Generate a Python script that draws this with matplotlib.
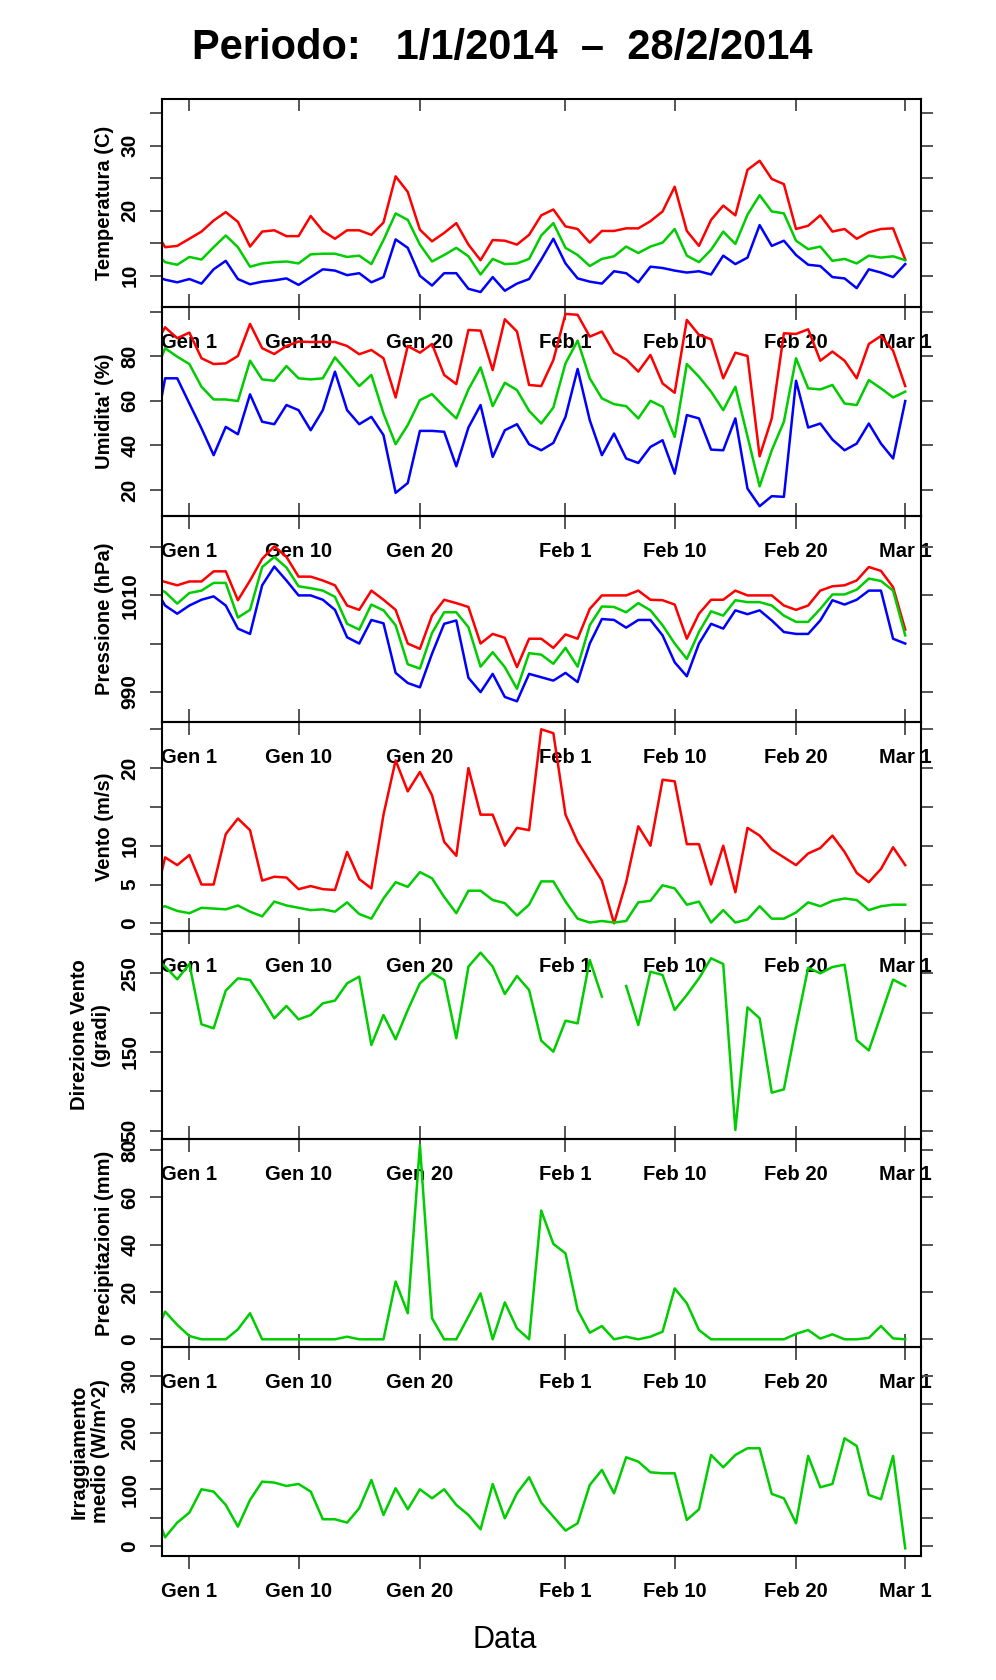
import numpy as np
import matplotlib
matplotlib.use('Agg')
import matplotlib.pyplot as plt

plt.rcParams['font.family'] = ['Liberation Sans', 'DejaVu Sans']

# giorni rispetto al 1 gennaio 2014 (il primo punto cade appena fuori dal bordo sinistro)
days = np.arange(-3, 60)

tick_days = [0, 9, 19, 31, 40, 50, 59]
tick_labels = ['Gen 1', 'Gen 10', 'Gen 20', 'Feb 1', 'Feb 10', 'Feb 20', 'Mar 1']

# Temperatura (C): max / media / min
temp_max = [17.6, 14.4, 14.6, 15.7, 16.8, 18.5, 19.8, 18.3, 14.5, 16.8,
            17.0, 16.1, 16.1, 19.2, 16.9, 15.7, 17.0, 17.0, 16.3, 18.2,
            25.3, 22.9, 17.1, 15.3, 16.6, 18.1, 14.8, 12.4, 15.5, 15.4,
            14.8, 16.3, 19.3, 20.2, 17.6, 17.2, 15.1, 16.9, 16.9, 17.3,
            17.3, 18.4, 19.9, 23.7, 16.9, 14.6, 18.6, 20.8, 19.3, 26.3,
            27.7, 24.9, 24.1, 17.2, 17.7, 19.3, 16.8, 17.2, 15.7, 16.7,
            17.2, 17.3, 12.5]
temp_avg = [13.9, 12.1, 11.7, 12.9, 12.5, 14.4, 16.2, 14.4, 11.4, 11.9,
            12.1, 12.2, 11.9, 13.3, 13.4, 13.4, 12.9, 13.1, 11.8, 15.5,
            19.6, 18.6, 14.8, 12.2, 13.2, 14.3, 13.0, 10.2, 12.6, 11.8,
            11.9, 12.6, 16.2, 18.1, 14.3, 13.2, 11.5, 12.6, 13.0, 14.5,
            13.5, 14.5, 15.1, 17.2, 13.1, 12.1, 14.0, 16.8, 14.9, 19.4,
            22.4, 19.9, 19.6, 15.4, 14.1, 14.5, 12.3, 12.6, 11.9, 13.1,
            12.8, 13.0, 12.4]
temp_min = [10.1, 9.4, 9.0, 9.5, 8.8, 11.0, 12.3, 9.5, 8.7, 9.1,
            9.3, 9.6, 8.6, 9.8, 11.0, 10.8, 10.1, 10.4, 9.0, 9.8,
            15.6, 14.3, 10.0, 8.5, 10.4, 10.4, 8.0, 7.5, 9.8, 7.7,
            8.8, 9.5, 12.5, 15.7, 11.9, 9.6, 9.1, 8.8, 10.7, 10.4,
            9.0, 11.4, 11.2, 10.8, 10.5, 10.7, 10.2, 13.1, 11.8, 12.8,
            17.8, 14.6, 15.4, 13.2, 11.7, 11.5, 9.8, 9.6, 8.1, 11.0,
            10.5, 9.8, 11.8]

# Umidita' (%)
hum_max = [83.4, 93.0, 88.1, 90.6, 79.1, 76.5, 76.8, 80.1, 94.5, 83.6,
           81.0, 84.6, 86.6, 86.4, 86.4, 86.4, 84.6, 80.9, 82.8, 79.1,
           61.5, 84.6, 81.6, 85.5, 71.6, 67.5, 91.8, 91.5, 73.8, 96.6,
           91.1, 67.1, 66.6, 78.3, 99.0, 98.6, 88.8, 91.1, 81.6, 78.6,
           73.1, 80.6, 67.8, 63.6, 96.3, 89.6, 87.6, 70.1, 81.6, 80.1,
           35.1, 52.1, 90.3, 90.0, 92.1, 78.0, 82.1, 78.0, 70.1, 85.5,
           89.1, 82.5, 66.6]
hum_avg = [70.0, 83.6, 79.8, 76.5, 66.3, 60.6, 60.6, 59.9, 78.0, 69.6,
           69.0, 75.6, 70.1, 69.6, 70.1, 79.5, 73.1, 66.6, 71.6, 54.3,
           40.5, 49.1, 60.3, 63.0, 57.3, 52.1, 65.1, 75.0, 57.6, 68.1,
           64.8, 55.5, 49.8, 57.0, 76.8, 87.0, 70.1, 61.1, 58.5, 57.6,
           52.1, 60.0, 57.3, 43.8, 76.5, 70.8, 64.1, 55.8, 66.3, 44.0,
           21.6, 37.8, 50.6, 79.1, 65.6, 65.1, 67.1, 58.8, 58.1, 69.3,
           65.6, 61.5, 64.1]
hum_min = [40.5, 70.1, 70.1, 58.8, 47.6, 35.6, 48.3, 45.0, 62.9, 50.6,
           49.5, 58.1, 55.8, 46.8, 55.8, 73.1, 55.8, 49.5, 52.8, 44.6,
           18.7, 23.1, 46.5, 46.5, 46.1, 30.6, 48.0, 58.1, 34.8, 46.8,
           49.5, 40.5, 37.8, 41.1, 52.8, 74.3, 51.3, 35.6, 45.3, 34.1,
           32.1, 39.3, 42.3, 27.3, 53.6, 52.1, 38.1, 37.8, 52.1, 20.6,
           12.7, 17.2, 16.9, 69.0, 48.0, 49.8, 42.6, 37.8, 40.8, 49.8,
           40.8, 34.1, 59.9]

# Pressione (hPa)
pres_max = [1013.5, 1012.8, 1012.1, 1012.9, 1012.9, 1015.0, 1015.0, 1009.0, 1013.1, 1017.6,
            1020.2, 1018.0, 1013.9, 1013.9, 1013.1, 1012.1, 1007.9, 1007.0, 1011.0, 1009.1,
            1007.0, 1000.0, 998.9, 1005.8, 1009.1, 1008.4, 1007.6, 1000.0, 1002.0, 1001.2,
            995.1, 1001.0, 1001.0, 999.1, 1001.9, 1001.0, 1007.2, 1010.0, 1010.0, 1010.0,
            1011.0, 1009.1, 1009.0, 1008.1, 1001.0, 1006.2, 1009.1, 1009.1, 1011.0, 1010.0,
            1010.0, 1010.0, 1007.9, 1007.0, 1007.9, 1011.0, 1011.9, 1012.1, 1013.1, 1015.9,
            1015.1, 1011.7, 1002.9]
pres_avg = [1011.8, 1010.7, 1008.3, 1010.5, 1011.0, 1012.6, 1012.6, 1005.4, 1007.0, 1015.9,
            1018.0, 1015.8, 1011.9, 1011.5, 1011.0, 1009.7, 1004.1, 1002.9, 1008.1, 1006.9,
            1003.8, 995.7, 994.8, 1002.2, 1006.5, 1006.5, 1003.4, 995.2, 998.2, 995.1,
            990.6, 998.0, 997.7, 995.8, 999.1, 995.2, 1003.8, 1007.7, 1007.6, 1006.5,
            1008.4, 1006.9, 1003.8, 1000.0, 996.8, 1002.4, 1006.7, 1005.8, 1009.0, 1008.6,
            1008.6, 1007.9, 1005.8, 1004.5, 1004.5, 1007.2, 1010.2, 1010.2, 1011.2, 1013.5,
            1013.0, 1011.0, 1001.7]
pres_min = [1012.2, 1007.9, 1006.2, 1007.9, 1009.1, 1009.8, 1007.9, 1003.1, 1002.0, 1012.1,
            1016.0, 1013.1, 1010.0, 1010.0, 1009.1, 1007.0, 1001.3, 1000.0, 1004.9, 1004.2,
            993.9, 991.8, 990.9, 997.9, 1004.1, 1004.8, 992.9, 989.9, 993.7, 988.9,
            988.0, 993.7, 993.0, 992.3, 993.9, 992.0, 1000.0, 1005.1, 1004.9, 1003.3,
            1004.9, 1004.9, 1001.7, 996.1, 993.2, 1000.0, 1004.1, 1003.1, 1006.9, 1006.1,
            1006.9, 1004.8, 1002.4, 1002.0, 1002.0, 1004.8, 1009.0, 1008.1, 1009.1, 1011.0,
            1011.0, 1001.0, 1000.0]

# Vento (m/s): raffica massima / media
wind_max = [1.9, 8.5, 7.5, 8.8, 5.0, 5.0, 11.5, 13.5, 12.0, 5.5,
            6.0, 5.9, 4.4, 4.8, 4.4, 4.3, 9.2, 5.7, 4.5, 14.0,
            21.0, 17.0, 19.5, 16.5, 10.5, 8.7, 20.0, 14.0, 14.0, 10.0,
            12.3, 12.0, 25.0, 24.5, 14.0, 10.5, 8.0, 5.5, 0.0, 5.3,
            12.5, 10.0, 18.5, 18.3, 10.2, 10.2, 5.0, 10.0, 4.0, 12.3,
            11.3, 9.5, 8.5, 7.5, 9.0, 9.7, 11.3, 9.2, 6.5, 5.3,
            7.0, 9.8, 7.5]
wind_avg = [1.8, 2.2, 1.6, 1.3, 2.0, 1.9, 1.8, 2.3, 1.5, 0.9,
            2.8, 2.3, 2.0, 1.7, 1.8, 1.5, 2.7, 1.2, 0.6, 3.2,
            5.3, 4.7, 6.6, 5.8, 3.4, 1.3, 4.2, 4.2, 3.0, 2.6,
            1.0, 2.4, 5.4, 5.4, 2.8, 0.6, 0.1, 0.3, 0.1, 0.3,
            2.7, 2.9, 4.9, 4.5, 2.4, 2.8, 0.1, 1.7, 0.1, 0.5,
            2.2, 0.6, 0.6, 1.4, 2.7, 2.2, 2.9, 3.2, 3.0, 1.7,
            2.2, 2.4, 2.4]

# Direzione vento (gradi), un giorno mancante
wind_dir = [273.5, 258.5, 242.4, 261.9, 185.2, 180.1, 228.0, 243.6, 241.5, 218.2,
            192.8, 208.5, 191.5, 197.0, 211.9, 215.3, 237.3, 245.8, 158.9, 197.0,
            166.1, 203.4, 237.3, 250.8, 241.5, 167.4, 258.5, 276.3, 258.5, 223.7,
            246.6, 228.8, 164.4, 150.4, 189.8, 186.4, 266.9, 220.3, np.nan, 233.9,
            184.3, 252.1, 247.9, 203.4, 222.5, 243.6, 269.1, 261.9, 50.8, 206.8,
            192.8, 98.3, 102.5, 182.0, 257.0, 250.0, 258.0, 261.0, 165.0, 152.0,
            197.0, 242.0, 234.0]

# Precipitazioni (mm)
rain = [0.0, 11.7, 6.1, 1.4, 0.0, 0.0, 0.0, 4.2, 11.0, 0.0,
        0.0, 0.0, 0.0, 0.0, 0.0, 0.0, 1.1, 0.0, 0.0, 0.0,
        24.4, 11.0, 82.1, 8.9, 0.0, 0.0, 9.6, 19.4, 0.0, 15.6,
        4.6, 0.0, 54.4, 40.3, 36.3, 12.4, 2.8, 5.6, 0.0, 1.1,
        0.0, 1.1, 3.2, 21.5, 15.2, 3.9, 0.0, 0.0, 0.0, 0.0,
        0.0, 0.0, 0.0, 2.3, 3.9, 0.3, 2.1, 0.0, 0.0, 0.6,
        5.6, 0.4, 0.0]

# Irraggiamento medio (W/m^2)
solar = [71.4, 15.3, 41.2, 58.8, 100.0, 95.9, 72.4, 34.1, 81.2, 113.5,
         111.8, 105.9, 109.4, 95.9, 47.1, 47.1, 41.2, 66.5, 116.5, 54.7,
         101.8, 64.7, 100.0, 84.1, 100.0, 72.4, 54.7, 29.4, 109.4, 48.8,
         92.9, 121.2, 76.5, 51.8, 27.1, 40.0, 107.6, 134.1, 92.9, 156.5,
         148.8, 130.0, 128.2, 128.2, 45.9, 64.7, 160.6, 138.8, 160.6, 172.4,
         172.4, 91.8, 84.1, 40.0, 158.8, 103.5, 109.4, 190.0, 176.5, 90.0,
         82.4, 158.8, -4.1]

RED = '#ff0000'
GREEN = '#00cd00'
BLUE = '#0000ff'

W, H = 996, 1680
LEFT, RIGHT = 161.7, 921.0
# bordi dei pannelli in pixel (dall'alto)
edges = [99, 307, 516, 722, 931, 1139, 1347, 1556]

panels = [
    ('Temperatura (C)', [(temp_max, RED), (temp_avg, GREEN), (temp_min, BLUE)],
     (5.2, 37.2), [10, 15, 20, 25, 30, 35], [10, 20, 30]),
    ("Umidita' (%)", [(hum_max, RED), (hum_avg, GREEN), (hum_min, BLUE)],
     (8.3, 102.1), [20, 40, 60, 80, 100], [20, 40, 60, 80]),
    ('Pressione (hPa)', [(pres_max, RED), (pres_avg, GREEN), (pres_min, BLUE)],
     (983.7, 1026.5), [990, 1000, 1010, 1020], [990, 1010]),
    ('Vento (m/s)', [(wind_max, RED), (wind_avg, GREEN)],
     (-0.99, 25.94), [0, 5, 10, 15, 20, 25], [0, 5, 10, 20]),
    ('Direzione Vento\n(gradi)', [(wind_dir, GREEN)],
     (39.4, 303.8), [50, 100, 150, 200, 250, 300], [50, 150, 250]),
    ('Precipitazioni (mm)', [(rain, GREEN)],
     (-3.25, 84.6), [0, 20, 40, 60, 80], [0, 20, 40, 60, 80]),
    ('Irraggiamento\nmedio (W/m^2)', [(solar, GREEN)],
     (-17.7, 351.0), [0, 50, 100, 150, 200, 250, 300], [0, 100, 200, 300]),
]

fig = plt.figure(figsize=(W / 100, H / 100), dpi=100)

tick_color = '#555555'
for i, (ylabel, series, ylim, yticks, shown) in enumerate(panels):
    top, bottom = edges[i], edges[i + 1]
    ax = fig.add_axes([LEFT / W, 1 - bottom / H, (RIGHT - LEFT) / W, (bottom - top) / H])
    ax.set_facecolor('none')

    for values, color in series:
        ax.plot(days, values, color=color, linewidth=1.8, solid_joinstyle='round')

    ax.set_xlim(-2.28, 60.3)
    ax.set_ylim(*ylim)

    # asse y: tacche fuori su entrambi i lati, etichette ruotate
    ax.set_yticks(yticks)
    ax.set_yticklabels([str(t) if t in shown else '' for t in yticks],
                       fontweight='bold', fontsize=15, rotation=90, va='center')
    ax.tick_params(axis='y', which='both', direction='out', length=8.5, width=1.4,
                   color=tick_color, right=True, labelright=False, pad=7.5)

    # asse x: le etichette finiscono dentro il pannello sottostante
    last = i == len(panels) - 1
    ax.set_xticks(tick_days)
    ax.set_xticklabels(tick_labels, fontweight='bold', fontsize=14.5)
    ax.tick_params(axis='x', direction='out' if last else 'inout',
                   length=9.0 if last else 18.7, width=1.4, color=tick_color,
                   pad=9.7)

    if i == 0:
        sec = ax.secondary_xaxis('top')
        sec.set_xticks(tick_days)
        sec.tick_params(direction='in', length=8.6, width=1.4, color=tick_color,
                        labeltop=False)
        sec.spines['top'].set_visible(False)

    for sp in ax.spines.values():
        sp.set_linewidth(1.5)
        sp.set_color('black')

    # etichetta asse y
    two_lines = '\n' in ylabel
    fig.text((90 if two_lines else 104) / W, 1 - (top + bottom) / 2 / H, ylabel,
             rotation=90, ha='center', va='center', fontsize=14.5,
             fontweight='bold', multialignment='center', linespacing=1.15)

fig.text(502 / W, 1 - 48 / H, 'Periodo:   1/1/2014  \u2013  28/2/2014',
         ha='center', va='center', fontsize=30, fontweight='bold')
fig.text(505 / W, 1 - 1640 / H, 'Data', ha='center', va='center', fontsize=22)

fig.savefig('out.png', dpi=100)
